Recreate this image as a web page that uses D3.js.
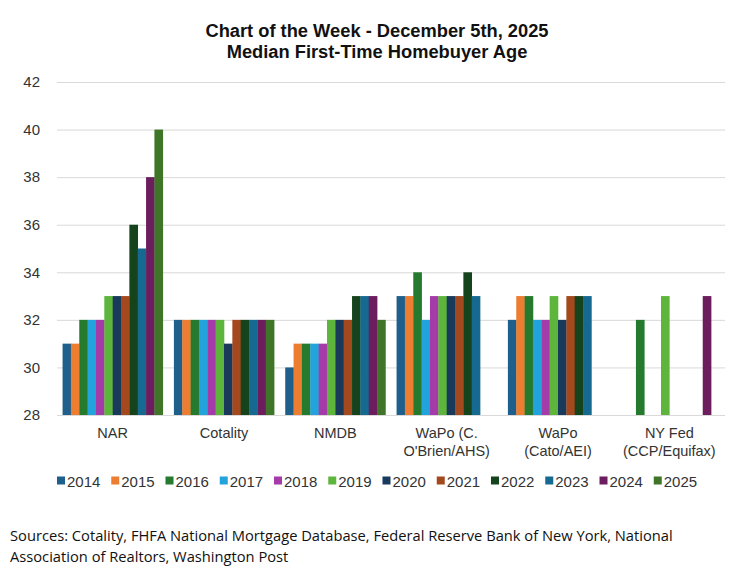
<!DOCTYPE html>
<html>
<head>
<meta charset="utf-8">
<script src="https://cdn.jsdelivr.net/npm/d3@7"></script>
<style>
  body { margin: 0; background: #fff; }
  svg { display: block; font-family: "Liberation Sans", Arial, sans-serif; }
</style>
</head>
<body>
<svg id="chart" width="736" height="573"></svg>
<script>
// categories (multi-line labels split on "\n")
const categories = ["NAR", "Cotality", "NMDB", "WaPo (C.\nO'Brien/AHS)", "WaPo\n(Cato/AEI)", "NY Fed\n(CCP/Equifax)"];
const years = ["2014", "2015", "2016", "2017", "2018", "2019", "2020", "2021", "2022", "2023", "2024", "2025"];
const yearColors = ["#1f5f8b", "#ed7d31", "#267a2e", "#22a3dc", "#a53ba8", "#5db53b",
                    "#1a3a5c", "#a3491d", "#15441c", "#166a91", "#6b1d5e", "#3e7527"];

// median age by year, one array per source (null = no data)
const narAges      = [31, 31, 32, 32, 32, 33, 33, 33, 36, 35, 38, 40];
const cotalityAges = [32, 32, 32, 32, 32, 32, 31, 32, 32, 32, 32, 32];
const nmdbAges     = [30, 31, 31, 31, 31, 32, 32, 32, 33, 33, 33, 32];
const wapoAhsAges  = [33, 33, 34, 32, 33, 33, 33, 33, 34, 33, null, null];
const wapoCatoAges = [32, 33, 33, 32, 32, 33, 32, 33, 33, 33, null, null];
const nyFedAges    = [null, null, 32, null, null, 33, null, null, null, null, 33, null];
const yTicks = [28, 30, 32, 34, 36, 38, 40, 42];

const seriesByCategory = [narAges, cotalityAges, nmdbAges, wapoAhsAges, wapoCatoAges, nyFedAges];

const svg = d3.select("#chart");
const margin = { left: 57, right: 11, top: 82, bottom: 158 };
const width = 736, height = 573;

const x0 = d3.scaleBand()
    .domain(categories)
    .range([margin.left, width - margin.right])
    .paddingInner(0.1)
    .paddingOuter(0.05);
const x1 = d3.scaleBand()
    .domain(years)
    .range([0, x0.bandwidth()]);
const y = d3.scaleLinear()
    .domain([28, 42])
    .range([height - margin.bottom, margin.top]);
const color = d3.scaleOrdinal(years, yearColors);

// title
const title = svg.append("g")
    .attr("font-family", "'Liberation Sans Narrow', 'Liberation Sans', Arial, sans-serif")
    .attr("font-weight", "bold")
    .attr("font-size", 18.3)
    .attr("fill", "#111")
    .attr("text-anchor", "middle");
title.append("text").attr("x", 377).attr("y", 37).text("Chart of the Week - December 5th, 2025");
title.append("text").attr("x", 377).attr("y", 58).text("Median First-Time Homebuyer Age");

// gridlines + y labels
const yAxis = svg.append("g")
    .attr("transform", `translate(${margin.left},0)`)
    .call(d3.axisLeft(y).tickValues(yTicks).tickSize(-(width - margin.left - margin.right)).tickPadding(17));
yAxis.select(".domain").remove();
yAxis.selectAll(".tick line").attr("stroke", "#d9d9d9").attr("stroke-width", 1);
yAxis.selectAll(".tick text")
    .attr("font-size", 15)
    .attr("fill", "#333")
    .attr("font-family", "'Liberation Sans', Arial, sans-serif");

// bars
const groups = svg.append("g")
    .selectAll("g")
    .data(categories)
    .join("g")
    .attr("transform", d => `translate(${x0(d)},0)`);

groups.selectAll("rect")
    .data((d, i) => years.map((yr, j) => ({ year: yr, value: seriesByCategory[i][j] }))
        .filter(v => v.value != null))
    .join("rect")
    .attr("x", d => x1(d.year))
    .attr("width", x1.bandwidth() + 0.3)
    .attr("y", d => y(d.value))
    .attr("height", d => y(28) - y(d.value))
    .attr("fill", d => color(d.year));

// category labels
const xLabels = svg.append("g")
    .attr("font-size", 14.5)
    .attr("fill", "#333")
    .attr("text-anchor", "middle");
xLabels.selectAll("text")
    .data(categories)
    .join("text")
    .attr("x", d => x0(d) + x0.bandwidth() / 2)
    .attr("y", 438)
    .selectAll("tspan")
    .data(d => d.split("\n"))
    .join("tspan")
    .attr("x", function() { return this.parentNode.getAttribute("x"); })
    .attr("dy", (d, i) => i === 0 ? 0 : 18)
    .text(d => d);

// legend
const legendX = d3.scaleBand().domain(years).range([57, 708]);
const legend = svg.append("g")
    .selectAll("g")
    .data(years)
    .join("g")
    .attr("transform", d => `translate(${legendX(d)},481)`);
legend.append("rect")
    .attr("x", 0).attr("y", -4.5)
    .attr("width", 8).attr("height", 8)
    .attr("fill", d => color(d));
legend.append("text")
    .attr("x", 10).attr("y", 5.5)
    .attr("font-size", 15)
    .attr("fill", "#333")
    .text(d => d);

// sources
const sources = svg.append("g")
    .attr("font-family", "'Open Sans', 'Noto Sans', sans-serif")
    .attr("font-size", 14.7)
    .attr("fill", "#111");
sources.append("text").attr("x", 10).attr("y", 541)
    .text("Sources: Cotality, FHFA National Mortgage Database, Federal Reserve Bank of New York, National");
sources.append("text").attr("x", 10).attr("y", 562)
    .text("Association of Realtors, Washington Post");
</script>
</body>
</html>
